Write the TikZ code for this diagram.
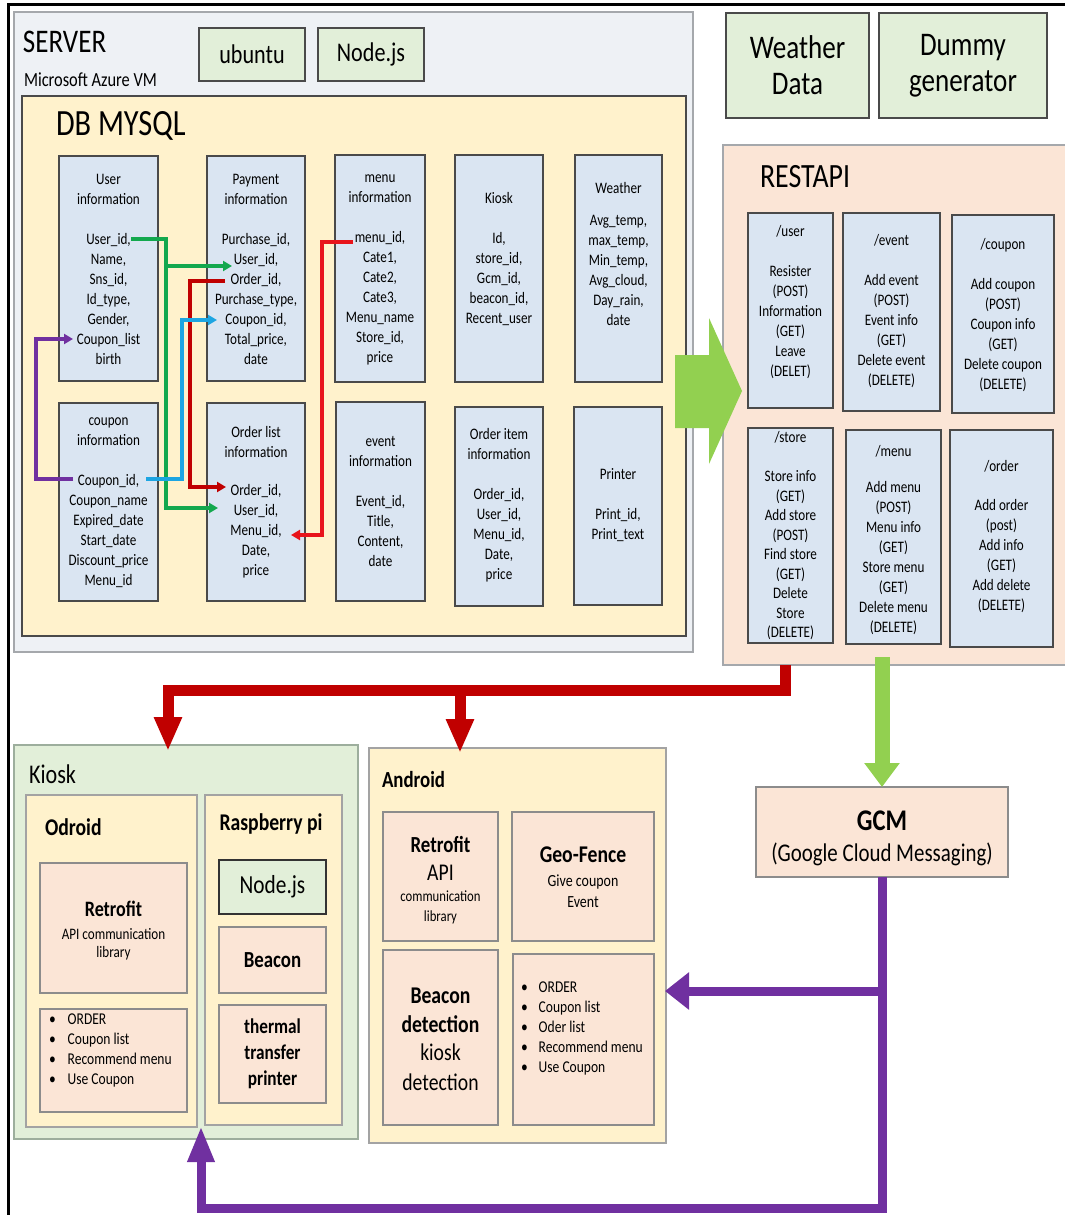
\documentclass[tikz,border=0pt]{standalone}
\usepackage{fontspec}
\setmainfont{Carlito}[FakeStretch=0.82]
\usetikzlibrary{arrows.meta}
\definecolor{srvfill}{HTML}{EEF1F5}
\definecolor{srvdraw}{HTML}{A5A8AC}
\definecolor{dbfill}{HTML}{FFF2CC}
\definecolor{tblfill}{HTML}{DAE5F2}
\definecolor{gfill}{HTML}{E2EFD9}
\definecolor{pfill}{HTML}{FBE5D6}
\definecolor{darkline}{HTML}{4A4A4A}
\definecolor{kdraw}{HTML}{9DAE9D}
\definecolor{ydraw}{HTML}{A3A3A3}
\definecolor{pdraw}{HTML}{8C8C8C}
\definecolor{cgreen}{HTML}{13A84E}
\definecolor{cdred}{HTML}{C00000}
\definecolor{ccyan}{HTML}{1DA5E2}
\definecolor{cpurple}{HTML}{7030A0}
\definecolor{cred}{HTML}{E8141B}
\definecolor{biggreen}{HTML}{92D050}
\newcommand\bx[7][]{\node[#1, minimum width={(#4)-(#2)}, minimum height={(#5)-(#3)}] (#6) at ({((#2)+(#4))/2},{((#3)+(#5))/2}) {#7};}
\newcommand\fs[2]{\fontsize{#1}{#2}\selectfont}
\tikzset{
 every node/.style={inner sep=0pt, outer sep=0pt},
 srv/.style={draw=srvdraw, line width=1.5pt, fill=srvfill},
 db/.style={draw=darkline, line width=1.5pt, fill=dbfill},
 tbl/.style={draw=darkline, line width=1.5pt, fill=tblfill},
 gbox/.style={draw=darkline, line width=1.5pt, fill=gfill, align=center},
 rest/.style={draw=srvdraw, line width=1.2pt, fill=pfill},
 kio/.style={draw=kdraw, line width=1.5pt, fill=gfill},
 yel/.style={draw=ydraw, line width=1.5pt, fill=dbfill},
 pch/.style={draw=pdraw, line width=1.5pt, fill=pfill, align=center},
 tt/.style={align=center, font=\fs{16}{20}},
 conn/.style={line width=3.5pt, -{Triangle[length=9pt,width=10pt]}},
 bigred/.style={line width=11pt, cdred, -{Triangle[length=34pt,width=26pt]}},
 bigpur/.style={line width=9pt, cpurple},
}
\begin{document}
\begin{tikzpicture}[x=1pt, y=-1pt]
\useasboundingbox (0,0) rectangle (1065,1215);
\fill[white] (0,0) rectangle (1065,1215);
\draw[line width=3pt] (1065,5) -- (8,5) -- (8,1215);

% ---------------- SERVER ----------------
\bx[srv]{14}{12}{693}{652}{server}{}
\node[anchor=west, font=\fs{33}{36}] (servertitle) at (23,42) {SERVER};
\node[anchor=west, font=\fs{20}{22}] (azure) at (24,80) {Microsoft Azure VM};
\bx[gbox, font=\fs{27}{30}]{199}{28}{305}{81}{ubuntu}{ubuntu}
\bx[gbox, font=\fs{27}{30}]{318}{28}{424}{81}{nodejs}{Node.js}

\bx[db]{22}{96}{686}{636}{db}{}
\node[anchor=west, font=\fs{37}{40}] (dbtitle) at (56,126) {DB MYSQL};

% tables
\bx[tbl]{59}{156}{158}{381}{usertbl}{}
\bx[tbl]{207}{156}{305}{381}{paytbl}{}
\bx[tbl]{335}{155}{425}{382}{menutbl}{}
\bx[tbl]{455}{155}{543}{382}{kiosktbl}{}
\bx[tbl]{575}{155}{662}{382}{weathertbl}{}
\bx[tbl]{59}{403}{158}{601}{coupontbl}{}
\bx[tbl]{207}{403}{305}{601}{orderlisttbl}{}
\bx[tbl]{336}{402}{425}{601}{eventtbl}{}
\bx[tbl]{455}{407}{543}{606}{orderitemtbl}{}
\bx[tbl]{574}{407}{662}{605}{printertbl}{}

\node[tt] (usertxt) at (108.5,269) {User\\information\\[20pt]User\_id,\\Name,\\Sns\_id,\\Id\_type,\\Gender,\\Coupon\_list\\birth};
\node[tt] (paytxt) at (256,269) {Payment\\information\\[20pt]Purchase\_id,\\User\_id,\\Order\_id,\\Purchase\_type,\\Coupon\_id,\\Total\_price,\\date};
\node[tt] (menutxt) at (380,270) {menu\\information\\[20pt]menu\_id,\\Cate1,\\Cate2,\\Cate3,\\Menu\_name\\Store\_id,\\price};
\node[tt] (kiosktxt) at (499,259) {Kiosk\\[20pt]Id,\\store\_id,\\Gcm\_id,\\beacon\_id,\\Recent\_user};
\node[tt] (weathertxt) at (618.5,254) {Weather\\[12pt]Avg\_temp,\\max\_temp,\\Min\_temp,\\Avg\_cloud,\\Day\_rain,\\date};
\node[tt] (coupontxt) at (108.5,503) {coupon\\information\\[20pt]Coupon\_id,\\Coupon\_name\\Expired\_date\\Start\_date\\Discount\_price\\Menu\_id};
\node[tt] (orderlisttxt) at (256,502) {Order list\\information\\[18pt]Order\_id,\\User\_id,\\Menu\_id,\\Date,\\price};
\node[tt] (eventtxt) at (380.5,501) {event\\information\\[20pt]Event\_id,\\Title,\\Content,\\date};
\node[tt] (orderitemtxt) at (499,505) {Order item\\information\\[20pt]Order\_id,\\User\_id,\\Menu\_id,\\Date,\\price};
\node[tt] (printertxt) at (618,505) {Printer\\[20pt]Print\_id,\\Print\_text};

% DB connectors
\coordinate (uidR) at (131,239);
\coordinate (gbus) at (166,239);
\coordinate (payUid) at (232,266);
\coordinate (olUid) at (218,508);
\draw[conn, cgreen] (uidR) -- (gbus) |- (olUid);
\draw[conn, cgreen] (gbus |- payUid) -- (payUid);

\coordinate (payOid) at (225,281);
\coordinate (drbus) at (190,281);
\coordinate (olOid) at (226,487);
\draw[conn, cdred] (payOid) -- (drbus) |- (olOid);

\coordinate (cpnR) at (146,479);
\coordinate (cbus) at (182,479);
\coordinate (payCid) at (217,320);
\draw[conn, ccyan] (cpnR) -- (cbus) |- (payCid);

\coordinate (cpnL) at (73,479);
\coordinate (pbus) at (36,479);
\coordinate (userCl) at (73,339);
\draw[conn, cpurple] (cpnL) -- (pbus) |- (userCl);

\coordinate (menuL) at (353,242);
\coordinate (rbus) at (322,242);
\coordinate (olMid) at (291,535);
\draw[conn, cred] (menuL) -- (rbus) |- (olMid);

% ---------------- top right ----------------
\bx[gbox, font=\fs{33}{36}]{726}{13}{869}{118}{wdata}{Weather\\Data}
\bx[gbox, font=\fs{33}{36}]{879}{13}{1047}{118}{dummy}{Dummy\\generator}

% ---------------- RESTAPI ----------------
\bx[rest]{723}{145}{1072}{665}{restapi}{}
\node[anchor=west, font=\fs{34}{36}] (resttitle) at (760,177) {RESTAPI};
\bx[tbl]{748}{213}{833}{408}{ruser}{}
\bx[tbl]{843}{213}{940}{411}{revent}{}
\bx[tbl]{952}{215}{1054}{413}{rcoupon}{}
\bx[tbl]{748}{428}{833}{643}{rstore}{}
\bx[tbl]{846}{430}{941}{644}{rmenu}{}
\bx[tbl]{950}{430}{1053}{647}{rorder}{}
\node[tt] (rusertxt) at (790.5,302) {/user\\[20pt]Resister\\(POST)\\Information\\(GET)\\Leave\\(DELET)};
\node[tt] (reventtxt) at (891.5,311) {/event\\[20pt]Add event\\(POST)\\Event info\\(GET)\\Delete event\\(DELETE)};
\node[tt] (rcoupontxt) at (1003,315) {/coupon\\[20pt]Add coupon\\(POST)\\Coupon info\\(GET)\\Delete coupon\\(DELETE)};
\node[tt, font=\fs{16}{19.5}] (rstoretxt) at (790.5,536) {/store\\[19.5pt]Store info\\(GET)\\Add store\\(POST)\\Find store\\(GET)\\Delete\\Store\\(DELETE)};
\node[tt] (rmenutxt) at (893.5,540) {/menu\\[16pt]Add menu\\(POST)\\Menu info\\(GET)\\Store menu\\(GET)\\Delete menu\\(DELETE)};
\node[tt] (rordertxt) at (1001.5,537) {/order\\[19pt]Add order\\(post)\\Add info\\(GET)\\Add delete\\(DELETE)};

% big green arrow server -> restapi
\fill[biggreen] (675,355) -- (709,355) -- (709,318) -- (742,391) -- (709,464) -- (709,428) -- (675,428) -- cycle;

% ---------------- Kiosk ----------------
\bx[kio]{14}{745}{358}{1139}{kiosk}{}
\node[anchor=west, font=\fs{27}{30}] (kiosktitle) at (29,774) {Kiosk};
\bx[yel]{26}{795}{197}{1127}{odroid}{}
\node[anchor=west, font=\fs{24}{28}\bfseries] (odroidtitle) at (45,827) {Odroid};
\bx[pch]{40}{863}{187}{993}{kretro}{}
\node[font=\fs{22}{26}\bfseries] (kretrot) at (113.5,909) {Retrofit};
\node[align=center, font=\fs{16}{18}] (kretros) at (113.5,944) {API communication\\library};
\bx[pch]{40}{1009}{187}{1112}{klist}{}
\node[anchor=west, font=\fs{16.5}{20}] (klisttxt) at (49,1050) {\begin{tabular}{@{}l@{\hspace{12pt}}l@{}}\textbullet & ORDER\\ \textbullet & Coupon list\\ \textbullet & Recommend menu\\ \textbullet & Use Coupon\end{tabular}};

\bx[yel]{205}{795}{342}{1125}{rasp}{}
\node[font=\fs{24}{28}\bfseries] (rasptitle) at (271,824) {Raspberry pi};
\bx[gbox, draw=black!80, line width=2pt, font=\fs{26}{30}]{219}{860}{326}{914}{rnode}{Node.js}
\bx[pch, font=\fs{23}{26}\bfseries]{219}{927}{326}{993}{rbeacon}{Beacon}
\bx[pch, font=\fs{21}{26}\bfseries]{219}{1005}{326}{1103}{rprinter}{thermal\\transfer\\printer}

% ---------------- Android ----------------
\bx[yel]{369}{748}{666}{1143}{android}{}
\node[anchor=west, font=\fs{23}{26}\bfseries] (androidtitle) at (382,780) {Android};
\bx[pch]{383}{812}{498}{941}{aretro}{}
\node[font=\fs{23}{26}\bfseries] (aretrot) at (440.5,844) {Retrofit};
\node[font=\fs{24}{26}] (aretroapi) at (440.5,873) {API};
\node[align=center, font=\fs{15.5}{20}] (aretros) at (440.5,907) {communication\\library};
\bx[pch]{512}{812}{654}{941}{geo}{}
\node[font=\fs{24}{26}\bfseries] (geot) at (583,855) {Geo-Fence};
\node[align=center, font=\fs{17}{21}] (geos) at (583,891) {Give coupon\\Event};
\bx[pch]{383}{950}{498}{1125}{abeacon}{}
\node[align=center, font=\fs{24}{29}\bfseries] (abeacont) at (440.5,1010) {Beacon\\detection};
\node[align=center, font=\fs{24}{29.5}] (abeacons) at (440.5,1067) {kiosk\\detection};
\bx[pch]{513}{954}{654}{1125}{alist}{}
\node[anchor=west, font=\fs{16.5}{20}] (alisttxt) at (521,1028) {\begin{tabular}{@{}l@{\hspace{11pt}}l@{}}\textbullet & ORDER\\ \textbullet & Coupon list\\ \textbullet & Oder list\\ \textbullet & Recommend menu\\ \textbullet & Use Coupon\end{tabular}};

% ---------------- GCM ----------------
\bx[pch]{756}{787}{1008}{877}{gcm}{}
\node[font=\fs{30}{32}\bfseries] (gcmt) at (882,821) {GCM};
\node[font=\fs{25.5}{27}] (gcms) at (882,854) {(Google Cloud Messaging)};

% ---------------- connectors bottom ----------------
\coordinate (restRed) at (785,665);
\coordinate (redJ) at (785,690);
\coordinate (kioskIn) at (168,751);
\coordinate (androidIn) at (460,753);
\draw[bigred] (restRed) -- (redJ) -| (kioskIn);
\draw[bigred] (androidIn |- redJ) -- (androidIn);

\coordinate (restGreen) at (882,657);
\draw[line width=15pt, biggreen, -{Triangle[length=24pt,width=34pt]}] (restGreen) -- (gcm.north);

\coordinate (purB) at (882,1208);
\coordinate (kioskPin) at (201,1126);
\coordinate (andPin) at (665,991);
\draw[bigpur, -{Triangle[length=36pt,width=25pt]}] (gcm.south) -- (purB) -| (kioskPin);
\draw[bigpur, -{Triangle[length=24pt,width=36pt]}] (gcm.south |- andPin) -- (andPin);
\end{tikzpicture}
\end{document}
